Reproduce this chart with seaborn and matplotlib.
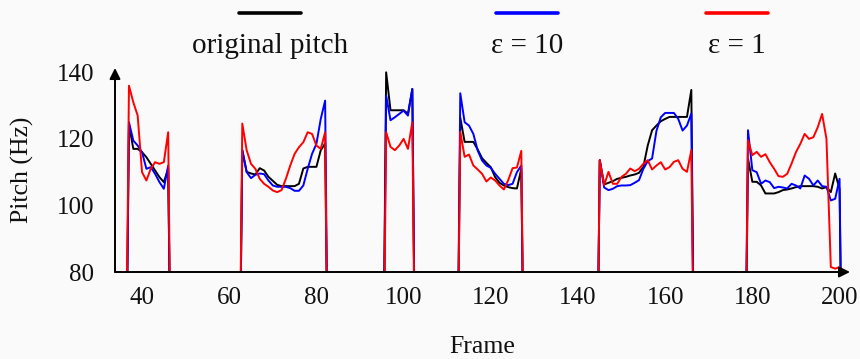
import matplotlib
matplotlib.use("Agg")
import matplotlib.pyplot as plt
from matplotlib.lines import Line2D
import seaborn as sns
import numpy as np
import pandas as pd

# voiced segments: first frame of each one, then the pitch (Hz) frame by frame.
# frames outside these segments are unvoiced (pitch = 0)
seg_starts = [37, 63, 96, 113, 145, 179]

original_pitch = [
    [124.5, 117, 117, 116, 114.5, 112.5, 110.5, 108.5, 107, 111],
    [116.6, 110.1, 109.6, 109.3, 111.2, 110.5, 108.6, 107.4, 106.2, 105.8,
     105.8, 105.8, 105.8, 106.5, 111.1, 111.6, 111.6, 111.6, 116.6, 118.6],
    [140, 128.6, 128.6, 128.6, 128.6, 127.6, 135],
    [126.4, 119.1, 119.1, 119.1, 116.8, 114.2, 112.8, 111.5, 108.5, 106.8,
     106, 105.5, 105.2, 105.1, 111],
    [113.6, 106.3, 106.8, 107.3, 108, 108.3, 108.6, 109, 109.3, 109.8, 111.6,
     118, 122.6, 124, 125.3, 126, 126.6, 126.6, 126.6, 126.6, 126.6, 134.7],
    [114.1, 107.1, 107.1, 106, 103.6, 103.6, 103.6, 104, 104.6, 104.8, 105.1,
     105.5, 105.8, 105.8, 105.8, 105.8, 105.6, 105.1, 105.5, 104, 109.6, 105],
]
eps10_pitch = [
    [125, 119.5, 118, 116, 111, 111.5, 109.5, 107, 105, 112],
    [116.6, 110, 108.2, 109.2, 109.6, 109.4, 107.5, 106, 105.6, 105.6,
     105.6, 105.2, 104.4, 104.4, 106, 111, 115.5, 118.5, 126, 131.5],
    [133, 125.6, 126.5, 127.5, 128.5, 127, 135],
    [133.7, 125, 124, 121.5, 116.5, 113.5, 112, 111.3, 109.5, 108,
     106.5, 106.1, 106.5, 110, 112],
    [113.6, 105.4, 104.6, 105, 105.8, 106, 106, 106.1, 106.8, 107.6, 111,
     113.3, 114.1, 122.4, 126.5, 127.8, 127.8, 127.8, 126, 122.5, 124, 127.6],
    [122.6, 110.6, 110, 106.5, 107.5, 107, 105.2, 105.6, 105.4, 105.1, 106.5,
     106, 105.1, 109, 108, 106, 107.5, 105.8, 105.6, 101.5, 102, 108],
]
eps1_pitch = [
    [136, 131, 127, 110, 107.5, 111, 113, 112.5, 113, 122],
    [124.6, 116.6, 112.5, 111, 108, 106.5, 105.6, 104.5, 104, 104.6,
     108, 112, 115.5, 117.5, 119, 122, 121.5, 118, 117, 122],
    [122, 117.6, 116.6, 118, 120, 117, 125],
    [122.1, 114.6, 115.3, 112, 110.8, 109.5, 107.2, 108.4, 107.5, 106,
     104.8, 107.6, 111.2, 111.4, 116.4],
    [113.6, 106.1, 110.1, 106.5, 106.5, 108.6, 109.5, 111.1, 110.3, 111, 112.5,
     113.6, 110.8, 112, 113, 110.8, 111.5, 113.1, 113.6, 111, 110.1, 116.6],
    [119.6, 115.1, 116.1, 114.6, 115.4, 113, 111, 108.8, 108.6, 109.5, 112.6,
     116, 118.5, 121.5, 120, 120.5, 123.5, 127.5, 120, 81.5, 81, 81.5],
]

frame_min, frame_max = 34, 202
series_names = ["original pitch", "\u03b5 = 10", "\u03b5 = 1"]
series_colors = ["black", "#0000ff", "#ff0000"]
x_ticks = [40, 60, 80, 100, 120, 140, 160, 180, 200]
y_ticks = [80, 100, 120, 140]


def full_track(segments):
    frames = np.arange(frame_min, frame_max + 1)
    track = np.zeros(len(frames))
    for start, vals in zip(seg_starts, segments):
        i = start - frame_min
        track[i:i + len(vals)] = vals
    return frames, track


rows = []
for name, segs in zip(series_names, [original_pitch, eps10_pitch, eps1_pitch]):
    fr, tr = full_track(segs)
    rows.append(pd.DataFrame({"Frame": fr, "Pitch": tr, "series": name}))
df = pd.concat(rows, ignore_index=True)

sns.set_theme(style="white")
plt.rcParams['font.family'] = ['Liberation Serif', 'DejaVu Serif']

bg = "#fafafa"
fig = plt.figure(figsize=(8.6, 3.59), dpi=100, facecolor=bg)
ax = fig.add_axes([115 / 860, 87 / 359, 735 / 860, 204 / 359], facecolor=bg)

sns.lineplot(data=df, x="Frame", y="Pitch", hue="series", hue_order=series_names,
             palette=dict(zip(series_names, series_colors)), estimator=None,
             sort=False, legend=False, linewidth=1.4, ax=ax)

ax.set_xlim(33.8, 202.4)
ax.set_ylim(80, 141.3)
ax.set_xticks(x_ticks)
ax.set_yticks(y_ticks)
ax.tick_params(axis="both", length=0, labelsize=18, colors="#111111")
ax.tick_params(axis="y", pad=15)
ax.tick_params(axis="x", pad=11)
for s in ax.spines.values():
    s.set_visible(False)

# axis lines with arrow heads
arrow = dict(arrowstyle="-|>", color="black", lw=1.4, mutation_scale=16,
             shrinkA=0, shrinkB=0)
ax.annotate("", xy=(1, 0), xytext=(0, 0), xycoords="axes fraction", arrowprops=arrow)
ax.annotate("", xy=(0, 1), xytext=(0, 0), xycoords="axes fraction", arrowprops=arrow)

ax.set_xlabel("Frame", fontsize=18.5, color="#111111")
ax.set_ylabel("Pitch (Hz)", fontsize=18.5, color="#111111")
ax.xaxis.set_label_coords(0.5, -0.315)
ax.yaxis.set_label_coords(-0.11, 0.5)

# legend: short line above each label
legend_centers = [270, 527, 737]
for name, col, cx in zip(series_names, series_colors, legend_centers):
    fig.add_artist(Line2D([(cx - 31) / 860, (cx + 31) / 860], [1 - 13 / 359] * 2,
                          color=col, lw=2.6, transform=fig.transFigure))
    fig.text(cx / 860, 1 - 53 / 359, name, ha="center", va="baseline",
             fontsize=21, color="#111111")

fig.savefig("out.png", dpi=100, facecolor=bg)
